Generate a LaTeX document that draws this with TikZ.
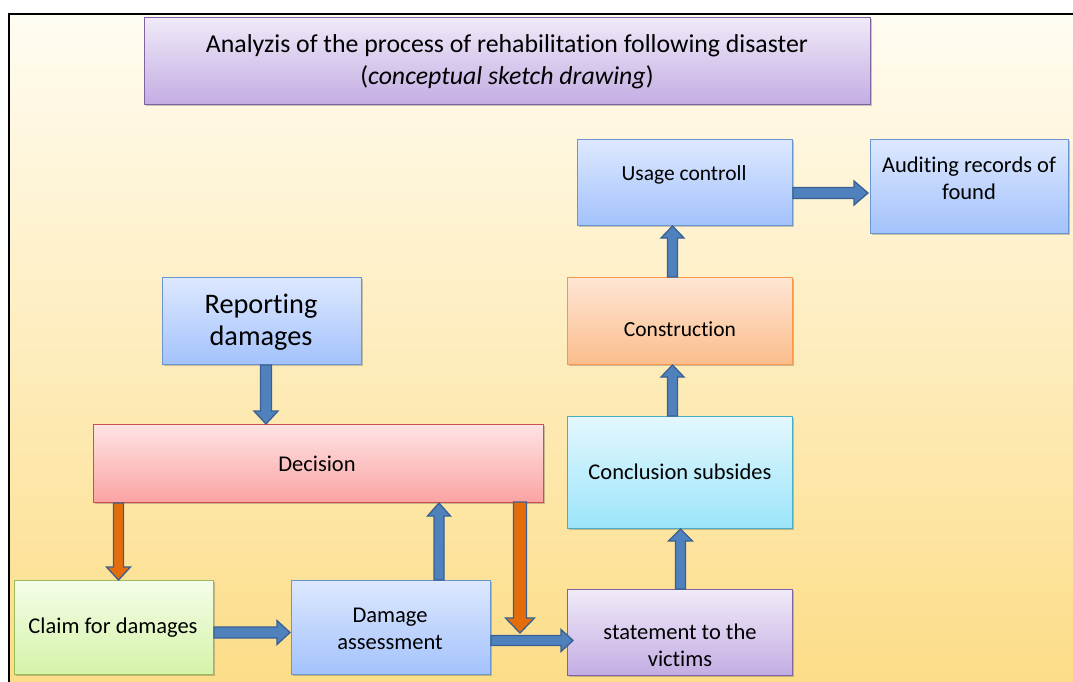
\documentclass[tikz,border=0pt]{standalone}
\usepackage{fontspec}
\setmainfont[Ligatures=CommonOff]{Carlito}
\usetikzlibrary{calc,shadows}
\definecolor{bgtop}{HTML}{FFFCF2}
\definecolor{bgbot}{HTML}{FCDD88}
\definecolor{bluet}{HTML}{DDE8FE}
\definecolor{blueb}{HTML}{A3C2FC}
\definecolor{bluebd}{HTML}{6A95CF}
\definecolor{redt}{HTML}{FEE3E3}
\definecolor{redb}{HTML}{FBA3A3}
\definecolor{redbd}{HTML}{C9504D}
\definecolor{orat}{HTML}{FEE6D4}
\definecolor{orab}{HTML}{FBBD8C}
\definecolor{orabd}{HTML}{F79646}
\definecolor{cyat}{HTML}{E3F7FD}
\definecolor{cyab}{HTML}{9CE5FB}
\definecolor{cyabd}{HTML}{4BACC6}
\definecolor{purt}{HTML}{F0EAF8}
\definecolor{purb}{HTML}{C3ADE3}
\definecolor{purbd}{HTML}{8064A2}
\definecolor{grnt}{HTML}{F4FDE8}
\definecolor{grnb}{HTML}{D5F3A8}
\definecolor{grnbd}{HTML}{9BBB59}
\definecolor{arrblue}{HTML}{4F81BD}
\definecolor{arrorange}{HTML}{E46C0A}
\definecolor{arrbd}{HTML}{3A6093}
% block arrow: fill, shaft half width, head half width, head length, start, end
\newcommand{\barr}[6]{%
  \coordinate (bs) at (#5);
  \coordinate (be) at (#6);
  \coordinate (bm) at ($(be)!#4pt!(bs)$);
  \filldraw[fill=#1, draw=arrbd, line width=1.3pt, line join=miter]
    ($(bs)!#2pt!90:(be)$) -- ($(bm)!#2pt!-90:(bs)$) -- ($(bm)!#3pt!-90:(bs)$)
    -- (be) -- ($(bm)!#3pt!90:(bs)$) -- ($(bm)!#2pt!90:(bs)$)
    -- ($(bs)!#2pt!-90:(be)$) -- cycle;}
\begin{document}
\begin{tikzpicture}[x=1pt,y=-1pt,
  box/.style={rectangle, line width=1pt, anchor=north west, inner sep=0pt,
    drop shadow={shadow xshift=1.5pt, shadow yshift=-1.5pt, opacity=0.3, fill=black!70}},
  bluebox/.style={box, draw=bluebd, top color=bluet, bottom color=blueb},
  redbox/.style={box, draw=redbd, top color=redt, bottom color=redb},
  orabox/.style={box, draw=orabd, top color=orat, bottom color=orab},
  cyabox/.style={box, draw=cyabd, top color=cyat, bottom color=cyab},
  purbox/.style={box, draw=purbd, top color=purt, bottom color=purb},
  grnbox/.style={box, draw=grnbd, top color=grnt, bottom color=grnb},
  txt/.style={align=center, inner sep=0pt, font=\fontsize{22.5}{27}\selectfont},
  smalltxt/.style={txt, font=\fontsize{21.5}{27}\selectfont}]
\useasboundingbox (0,0) rectangle (1073,681);
\fill[white] (0,0) rectangle (1073,681);
\shade[top color=bgtop, bottom color=bgbot] (9,14) rectangle (1073,681);
\draw[line width=2pt] (9,690) -- (9,14) -- (1085,14);

% boxes
\node[purbox, minimum width=726pt, minimum height=87pt] (title) at (144,17) {};
\node[bluebox, minimum width=215pt, minimum height=86pt] (use) at (577,139) {};
\node[bluebox, minimum width=198pt, minimum height=94pt] (aud) at (870,139) {};
\node[orabox, minimum width=225pt, minimum height=87pt] (cons) at (567,277) {};
\node[cyabox, minimum width=225pt, minimum height=112pt] (concl) at (567,416) {};
\node[bluebox, minimum width=199pt, minimum height=87pt] (rep) at (162,277) {};
\node[redbox, minimum width=450pt, minimum height=78pt] (dec) at (93,424) {};
\node[grnbox, minimum width=199pt, minimum height=94pt] (claim) at (14,580) {};
\node[bluebox, minimum width=199pt, minimum height=94pt] (dmg) at (291,580) {};
\node[purbox, minimum width=225pt, minimum height=86pt] (stm) at (567,589) {};

% texts
\node[txt, font=\fontsize{25.8}{32}\selectfont] (titletxt) at (507,62)
  {Analyzis of the process of rehabilitation following disaster\\(\textit{conceptual sketch drawing})};
\node[smalltxt] (usetxt) at (684,175) {Usage controll};
\node[txt] (audtxt) at (969,178) {Auditing records of\\found};
\node[smalltxt] (constxt) at (680,329) {Construction};
\node[txt] (concltxt) at (680,472) {Conclusion subsides};
\node[txt, font=\fontsize{28.3}{32}\selectfont] (reptxt) at (261,322) {Reporting\\damages};
\node[txt] (dectxt) at (317,464) {Decision};
\node[txt] (claimtxt) at (113,628) {Claim for damages};
\node[txt] (dmgtxt) at (390,629) {Damage\\assessment};
\node[txt] (stmtxt) at (680,645) {statement to the\\victims};

% arrows
\coordinate (a1) at ($(rep.south)+(4,0)$);
\coordinate (a1e) at (a1 |- dec.north);
\barr{arrblue}{5.5}{12}{13}{a1}{a1e}
\coordinate (a2) at ($(claim.north)+(4.5,0)$);
\coordinate (a2s) at (a2 |- dec.south);
\barr{arrorange}{5}{12}{13}{a2s}{a2}
\coordinate (a3) at ($(dmg.north)+(48,0)$);
\coordinate (a3e) at (a3 |- dec.south);
\barr{arrblue}{5}{11.5}{13}{a3}{a3e}
\coordinate (a4s) at (520,502);
\coordinate (a4e) at (520,633);
\barr{arrorange}{6.5}{14.5}{15}{a4s}{a4e}
\coordinate (a5) at ($(claim.east)+(0,5)$);
\coordinate (a5e) at ($(a5 -| dmg.west)+(-1,0)$);
\barr{arrblue}{5.5}{12}{13}{a5}{a5e}
\coordinate (a6) at ($(dmg.east)+(0,13)$);
\coordinate (a6e) at ($(a6 -| stm.west)+(6,0)$);
\barr{arrblue}{5}{11}{12}{a6}{a6e}
\coordinate (a7) at ($(stm.north)+(0.5,0)$);
\coordinate (a7e) at (a7 |- concl.south);
\barr{arrblue}{5}{12}{12}{a7}{a7e}
\coordinate (a8) at ($(concl.north)+(-7.5,0)$);
\coordinate (a8e) at (a8 |- cons.south);
\barr{arrblue}{5}{11.5}{12}{a8}{a8e}
\coordinate (a9) at ($(cons.north)+(-7.5,0)$);
\coordinate (a9e) at (a9 |- use.south);
\barr{arrblue}{5}{11.5}{12}{a9}{a9e}
\coordinate (a10) at ($(use.east)+(0,10.5)$);
\coordinate (a10e) at ($(a10 -| aud.west)+(-2,0)$);
\barr{arrblue}{5.5}{12}{14}{a10}{a10e}
\end{tikzpicture}
\end{document}
